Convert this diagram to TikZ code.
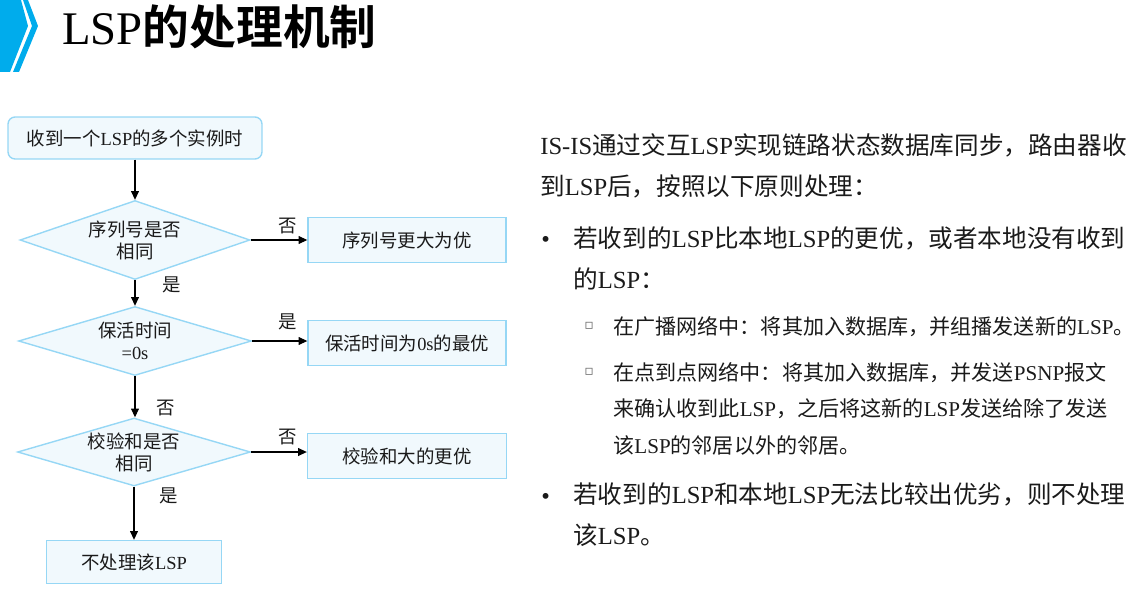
\documentclass[tikz,border=0pt]{standalone}
\usepackage{fontspec}
\setmainfont{Noto Sans CJK SC}[BoldFont={Noto Sans CJK SC Bold}]
\newfontfamily\latnfont{Liberation Serif}
\newfontfamily\symbfont{DejaVu Sans}
\usepackage{xcolor}
\usetikzlibrary{arrows.meta,shapes.geometric}
\definecolor{lspBlue}{RGB}{0,172,236}
\definecolor{lspLine}{RGB}{150,215,245}
\definecolor{lspFill}{RGB}{241,249,253}
\definecolor{lspText}{RGB}{26,26,26}
\definecolor{lspGray}{RGB}{110,110,110}
\newcommand{\latn}[1]{{\latnfont #1}}

\begin{document}
\begin{tikzpicture}[x=0.02cm,y=-0.02cm,
  flowtext/.style={font=\fontsize{10.5}{12.5}\selectfont, text=lspText},
  startbox/.style={flowtext, draw=lspLine, fill=lspFill, rounded corners=4pt, line width=0.8pt, minimum width=5.08cm, minimum height=0.84cm},
  endbox/.style={flowtext, draw=lspLine, fill=lspFill, line width=0.8pt, minimum height=0.9cm},
  decision/.style={flowtext, diamond, draw=lspLine, fill=lspFill, line width=0.8pt, inner sep=0pt, align=center},
  flow/.style={-{Triangle[length=5pt,width=4.5pt]}, line width=0.6pt, black},
  flowlabel/.style={flowtext, inner sep=1pt},
  bodytext/.style={font=\fontsize{14}{23.2}\selectfont, text=lspText, anchor=base west, align=left, inner sep=0pt},
  subtext/.style={font=\fontsize{12}{20.7}\selectfont, text=lspText, anchor=base west, align=left, inner sep=0pt},
  subsquare/.style={font=\fontsize{8}{8}\selectfont\symbfont, text=lspGray, anchor=west, inner sep=0pt}]
\useasboundingbox (0,0) rectangle (1135,591);

% title bar
\fill[lspBlue] (0,0) -- (21,0) -- (28,26) -- (10,72) -- (0,72) -- cycle;
\fill[lspBlue] (23,0) -- (28,0) -- (38,26) -- (19,72) -- (13,72) -- (32,26) -- cycle;
\node[anchor=base west, inner sep=0pt, text=black, font=\fontsize{26.6}{30}\selectfont\bfseries] (title) at (62,45) {\latn{\mdseries LSP}的处理机制};

% flow chart
\node[startbox] (recv) at (135,138) {收到一个\latn{LSP}的多个实例时};
\node[decision, minimum width=4.6cm, minimum height=1.58cm, aspect=2.9] (seq) at (135,240) {序列号是否\\相同};
\node[endbox, minimum width=3.96cm] (seqbig) at (407,240) {序列号更大为优};
\node[decision, minimum width=4.66cm, minimum height=1.38cm, aspect=3.4] (alive) at (135,341) {保活时间\\\latn{=0s}};
\node[endbox, minimum width=3.96cm] (alivezero) at (407,343) {保活时间为\latn{0s}的最优};
\node[decision, minimum width=4.66cm, minimum height=1.36cm, aspect=3.4] (csum) at (134,452) {校验和是否\\相同};
\node[endbox, minimum width=3.98cm] (csumbig) at (407,456) {校验和大的更优};
\node[endbox, minimum width=3.5cm, minimum height=0.86cm] (drop) at (134,562) {不处理该\latn{LSP}};

\draw[flow] (recv.south) -- (seq.north);
\draw[flow] (seq.east) -- node[flowlabel, pos=0.66, above, yshift=2pt] {否} (seqbig.west);
\draw[flow] (seq.south) -- node[flowlabel, pos=0.19, anchor=west, xshift=0.5cm] {是} (seq.south |- alive.north);
\draw[flow] (alive.east) -- node[flowlabel, pos=0.64, above, yshift=5pt] {是} (alive.east -| alivezero.west);
\draw[flow] (alive.south) -- node[flowlabel, pos=0.77, anchor=west, xshift=0.38cm] {否} (alive.south |- csum.north);
\draw[flow] (csum.east) -- node[flowlabel, pos=0.66, above, yshift=2.5pt] {否} (csum.east -| csumbig.west);
\draw[flow] (csum.south) -- node[flowlabel, pos=0.17, anchor=west, xshift=0.46cm] {是} (drop.north);

% explanation (multi-line nodes sit on the baseline of their last line)
\node[bodytext] (intro) at (540,195) {\latn{IS-IS}通过交互\latn{LSP}实现链路状态数据库同步，路由器收\\到\latn{LSP}后，按照以下原则处理：};
\node[bodytext] (dot1) at (541,247) {\latn{\textbullet}};
\node[bodytext] (better) at (573,288) {若收到的\latn{LSP}比本地\latn{LSP}的更优，或者本地没有收到\\的\latn{LSP}：};
\node[subsquare] (sq1) at (584,326) {▫};
\node[subtext] (bcast) at (613,334) {在广播网络中：将其加入数据库，并组播发送新的\latn{LSP}。};
\node[subsquare] (sq2) at (584,372) {▫};
\node[subtext] (p2p) at (613,453) {在点到点网络中：将其加入数据库，并发送\latn{PSNP}报文\\来确认收到此\latn{LSP}，之后将这新的\latn{LSP}发送给除了发送\\该\latn{LSP}的邻居以外的邻居。};
\node[bodytext] (dot2) at (541,504) {\latn{\textbullet}};
\node[bodytext] (worse) at (573,544) {若收到的\latn{LSP}和本地\latn{LSP}无法比较出优劣，则不处理\\该\latn{LSP}。};
\end{tikzpicture}
\end{document}
